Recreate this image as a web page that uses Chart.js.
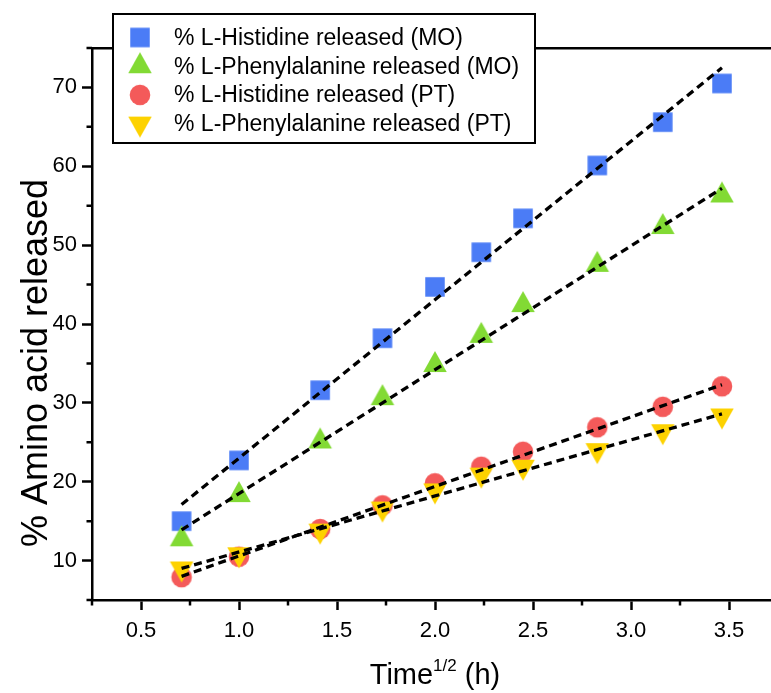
<!DOCTYPE html>
<html><head><meta charset="utf-8">
<script src="https://cdn.jsdelivr.net/npm/chart.js@4/dist/chart.umd.min.js"></script>
<style>
html,body{margin:0;padding:0;background:#fff;overflow:hidden;width:771px;height:693px;}
#wrap{position:relative;width:800px;height:693px;}
canvas{display:block;}
</style></head><body>
<div id="wrap"><canvas id="c" width="800" height="693"></canvas></div>
<script>
// ---- data ----
const timeRoot = [0.707, 1.0, 1.414, 1.732, 2.0, 2.236, 2.449, 2.828, 3.162, 3.464];
const hisMO = [15.0, 22.7, 31.6, 38.2, 44.7, 49.1, 53.4, 60.1, 65.6, 70.5];
const pheMO = [12.7, 18.3, 25.1, 30.6, 34.8, 38.5, 42.4, 47.5, 52.3, 56.3];
const hisPT = [7.9, 10.5, 14.0, 17.0, 19.8, 21.9, 23.8, 26.9, 29.5, 32.1];
const phePT = [9.0, 10.8, 13.8, 16.6, 18.9, 20.9, 21.9, 24.0, 26.4, 28.4];
// dashed linear-fit lines: end points
const fitX = [0.707, 3.464];
const fitHisMO = [17.1, 72.5];
const fitPheMO = [13.9, 57.2];
const fitHisPT = [8.0, 32.3];
const fitPhePT = [9.0, 28.6];
const seriesLabels = ['% L-Histidine released (MO)', '% L-Phenylalanine released (MO)', '% L-Histidine released (PT)', '% L-Phenylalanine released (PT)'];
const xTickLabels = [0.5, 1.0, 1.5, 2.0, 2.5, 3.0, 3.5];
const yTickLabels = [10, 20, 30, 40, 50, 60, 70];
const xMinorTicks = [0.25, 0.75, 1.25, 1.75, 2.25, 2.75, 3.25, 3.75];
const yMinorTicks = [5, 15, 25, 35, 45, 55, 65, 75];
const xTitle = ['Time', '1/2', ' (h)'];
const yTitle = '% Amino acid released';

const FONT = "'Liberation Sans', Arial, sans-serif";
const colors = ['#4b7cf6', '#82da34', '#f45a5a', '#fdd200'];

function makeMarker(kind, color) {
  const s = 30, m = s / 2;
  const c = document.createElement('canvas');
  c.width = s; c.height = s;
  const g = c.getContext('2d');
  g.fillStyle = color;
  g.beginPath();
  if (kind === 'square') {
    const a = 19.5;
    g.rect(m - a / 2, m - a / 2, a, a);
  } else if (kind === 'circle') {
    g.arc(m, m, 10.3, 0, Math.PI * 2);
  } else if (kind === 'up') {
    const w = 23.5, h = 21;
    g.moveTo(m, m - 2 * h / 3);
    g.lineTo(m + w / 2, m + h / 3);
    g.lineTo(m - w / 2, m + h / 3);
  } else {
    const w = 23.5, h = 21;
    g.moveTo(m, m + 2 * h / 3);
    g.lineTo(m + w / 2, m - h / 3);
    g.lineTo(m - w / 2, m - h / 3);
  }
  g.closePath();
  g.fill();
  return c;
}
const markers = [makeMarker('square', colors[0]), makeMarker('up', colors[1]), makeMarker('circle', colors[2]), makeMarker('down', colors[3])];

const pts = (xs, ys) => xs.map((x, i) => ({x: x, y: ys[i]}));
const seriesData = [hisMO, pheMO, hisPT, phePT];
const fitData = [fitHisMO, fitPheMO, fitHisPT, fitPhePT];
const markerOrder = [4, 3, 2, 1];

const datasets = [];
seriesData.forEach((ys, i) => {
  datasets.push({
    label: seriesLabels[i],
    data: pts(timeRoot, ys),
    pointStyle: markers[i],
    pointRadius: 11,
    showLine: false,
    order: markerOrder[i]
  });
});
fitData.forEach((ys) => {
  datasets.push({
    label: 'fit',
    data: pts(fitX, ys),
    showLine: true,
    borderColor: '#000',
    borderWidth: 3.3,
    borderDash: [8, 5],
    pointRadius: 0,
    fill: false,
    order: 0
  });
});

const decor = {
  id: 'decor',
  afterDraw(chart) {
    const ctx = chart.ctx;
    const xs = chart.scales.x, ys = chart.scales.y;
    const area = chart.chartArea;
    ctx.save();
    // minor ticks
    ctx.strokeStyle = '#000';
    ctx.lineWidth = 2.5;
    ctx.beginPath();
    xMinorTicks.forEach(v => {
      const px = xs.getPixelForValue(v);
      ctx.moveTo(px, area.bottom);
      ctx.lineTo(px, area.bottom + 5.5);
    });
    yMinorTicks.forEach(v => {
      const py = ys.getPixelForValue(v);
      ctx.moveTo(area.left, py);
      ctx.lineTo(area.left - 5.5, py);
    });
    ctx.stroke();

    // x title with superscript
    ctx.fillStyle = '#000';
    ctx.textBaseline = 'alphabetic';
    ctx.textAlign = 'left';
    const big = '29px ' + FONT, small = '17px ' + FONT;
    ctx.font = big; const w1 = ctx.measureText(xTitle[0]).width;
    ctx.font = small; const w2 = ctx.measureText(xTitle[1]).width;
    ctx.font = big; const w3 = ctx.measureText(xTitle[2]).width;
    const cx = (area.left + area.right) / 2;
    let tx = cx - (w1 + w2 + w3) / 2;
    const by = 684;
    ctx.font = big; ctx.fillText(xTitle[0], tx, by); tx += w1;
    ctx.font = small; ctx.fillText(xTitle[1], tx, by - 13); tx += w2;
    ctx.font = big; ctx.fillText(xTitle[2], tx, by);

    // y title
    ctx.save();
    ctx.translate(47, 363);
    ctx.rotate(-Math.PI / 2);
    ctx.textAlign = 'center';
    ctx.textBaseline = 'alphabetic';
    ctx.font = '36px ' + FONT;
    ctx.fillText(yTitle, 0, 0);
    ctx.restore();

    // legend box
    const bx = 113, by0 = 14, bw = 422, bh = 129;
    ctx.fillStyle = '#fff';
    ctx.fillRect(bx, by0, bw, bh);
    ctx.strokeStyle = '#000';
    ctx.lineWidth = 2;
    ctx.strokeRect(bx, by0, bw, bh);
    ctx.font = '23px ' + FONT;
    ctx.textBaseline = 'middle';
    ctx.textAlign = 'left';
    ctx.fillStyle = '#000';
    seriesLabels.forEach((lab, i) => {
      const ry = 37.5 + i * 28.7;
      const mk = markers[i];
      ctx.drawImage(mk, 140 - mk.width / 2, ry - mk.height / 2);
      ctx.fillText(lab, 174, ry + 1);
    });
    ctx.restore();
  }
};

const tickFont = {family: FONT, size: 22};
new Chart(document.getElementById('c'), {
  type: 'scatter',
  data: {datasets: datasets},
  options: {
    responsive: false,
    animation: false,
    devicePixelRatio: 1,
    layout: {padding: {left: 0, right: 22, top: 0, bottom: 0}},
    plugins: {legend: {display: false}, tooltip: {enabled: false}},
    scales: {
      x: {
        type: 'linear', position: 'bottom', min: 0.25, max: 3.75,
        afterBuildTicks: s => { s.ticks = xTickLabels.map(v => ({value: v})); },
        afterFit: s => { s.height = 93; },
        ticks: {font: tickFont, color: '#000', padding: 8, maxRotation: 0, autoSkip: false,
                callback: v => Number(v).toFixed(1)},
        grid: {drawOnChartArea: false, drawTicks: true, tickLength: 10, tickWidth: 2.5, tickColor: '#000'},
        border: {display: true, color: '#000', width: 2.5}
      },
      x2: {
        type: 'linear', position: 'top', min: 0.25, max: 3.75,
        afterFit: s => { s.height = 48; },
        ticks: {display: false},
        grid: {display: false},
        border: {display: true, color: '#000', width: 2.5}
      },
      y: {
        type: 'linear', position: 'left', min: 5, max: 75,
        afterBuildTicks: s => { s.ticks = yTickLabels.map(v => ({value: v})); },
        afterFit: s => { s.width = 92; },
        ticks: {font: tickFont, color: '#000', padding: 5, autoSkip: false},
        grid: {drawOnChartArea: false, drawTicks: true, tickLength: 10, tickWidth: 2.5, tickColor: '#000'},
        border: {display: true, color: '#000', width: 2.5}
      }
    }
  },
  plugins: [decor]
});
</script>
</body></html>
